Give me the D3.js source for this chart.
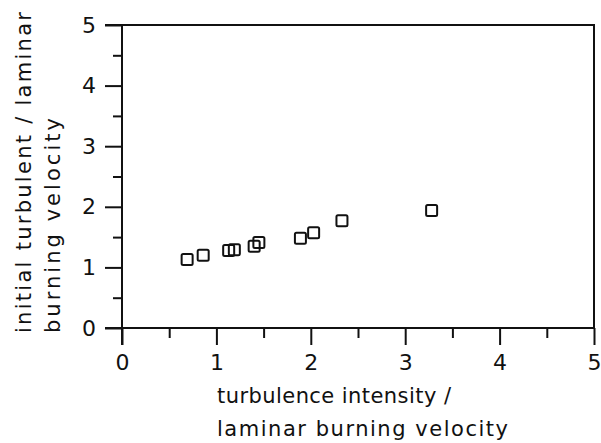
<!DOCTYPE html>
<head>
  <meta charset="utf-8">
  <style>
    body { margin: 0; background: #fff; }
    svg { background-color: #fff; }
    text { font-family: "DejaVu Sans", sans-serif; fill: #111; }
    .frame { stroke: #111; stroke-width: 2px; fill: none; }
    .pt { fill: none; stroke: #111; stroke-width: 2px; }
  </style>
</head>
<body>
  <svg></svg>
  <script src="https://d3js.org/d3.v7.min.js"></script>
  <script>
    // turbulence intensity / laminar burning velocity
    var intensity = [0.69, 0.86, 1.13, 1.19, 1.40, 1.45, 1.89, 2.03, 2.33, 3.28];
    // initial turbulent / laminar burning velocity
    var ratio = [1.13, 1.20, 1.28, 1.29, 1.35, 1.41, 1.48, 1.57, 1.77, 1.94];
    var majorTicks = [0, 1, 2, 3, 4, 5];
    var minorTicks = [0.5, 1.5, 2.5, 3.5, 4.5];

    var width = 601, height = 443;
    var svg = d3.select('svg').attr('width', width).attr('height', height);

    var x = d3.scaleLinear().domain([0, 5]).range([122, 594]);
    var y = d3.scaleLinear().domain([0, 5]).range([328, 25]);

    var g = svg.append('g');

    // frame (top + right)
    g.append('path').classed('frame', true)
      .attr('d', 'M' + (x(0) - 17) + ',' + y(5) + 'H' + x(5) + 'V' + y(0));

    // bottom axis
    var xAxis = d3.axisBottom(x).tickValues(majorTicks).tickSize(17).tickPadding(9).tickFormat(d3.format('d'));
    g.append('g').attr('transform', 'translate(0,' + y(0) + ')').call(xAxis);
    g.append('g').attr('transform', 'translate(0,' + y(0) + ')')
      .call(d3.axisBottom(x).tickValues(minorTicks).tickSize(10).tickFormat(''));

    // left axis
    var yAxis = d3.axisLeft(y).tickValues(majorTicks).tickSize(17).tickPadding(9).tickFormat(d3.format('d'));
    g.append('g').attr('transform', 'translate(' + x(0) + ',0)').call(yAxis);
    g.append('g').attr('transform', 'translate(' + x(0) + ',0)')
      .call(d3.axisLeft(y).tickValues(minorTicks).tickSize(9).tickFormat(''));

    g.selectAll('.domain').remove();
    g.selectAll('.tick line').attr('stroke', '#111').attr('stroke-width', 2);
    g.selectAll('.tick text').style('font-size', '22px').attr('fill', '#111');

    // axis lines drawn past the origin
    g.append('line').classed('frame', true)
      .attr('x1', x(0) - 17).attr('x2', x(5)).attr('y1', y(0)).attr('y2', y(0));
    g.append('line').classed('frame', true)
      .attr('x1', x(0)).attr('x2', x(0)).attr('y1', y(5)).attr('y2', y(0) + 17);

    // points
    var s = 11;
    g.selectAll('.pt').data(intensity).enter().append('rect')
      .classed('pt', true)
      .attr('x', function(d) { return x(d) - s / 2; })
      .attr('y', function(d, i) { return y(ratio[i]) - s / 2; })
      .attr('width', s).attr('height', s).attr('rx', 1.5);

    // axis titles
    var xt = svg.append('text').style('font-size', '21px');
    xt.append('tspan').attr('x', 217).attr('y', 403)
      .attr('textLength', 234).attr('lengthAdjust', 'spacing').text('turbulence intensity /');
    xt.append('tspan').attr('x', 217).attr('y', 436)
      .attr('textLength', 291).attr('lengthAdjust', 'spacing').text('laminar burning velocity');

    var yt = svg.append('text').attr('transform', 'translate(31,333) rotate(-90)')
      .style('font-size', '21px');
    yt.append('tspan').attr('x', 0).attr('y', 0)
      .attr('textLength', 321).attr('lengthAdjust', 'spacing').text('initial turbulent / laminar');
    yt.append('tspan').attr('x', 0).attr('y', 29)
      .attr('textLength', 215).attr('lengthAdjust', 'spacing').text('burning velocity');
  </script>
</body>
